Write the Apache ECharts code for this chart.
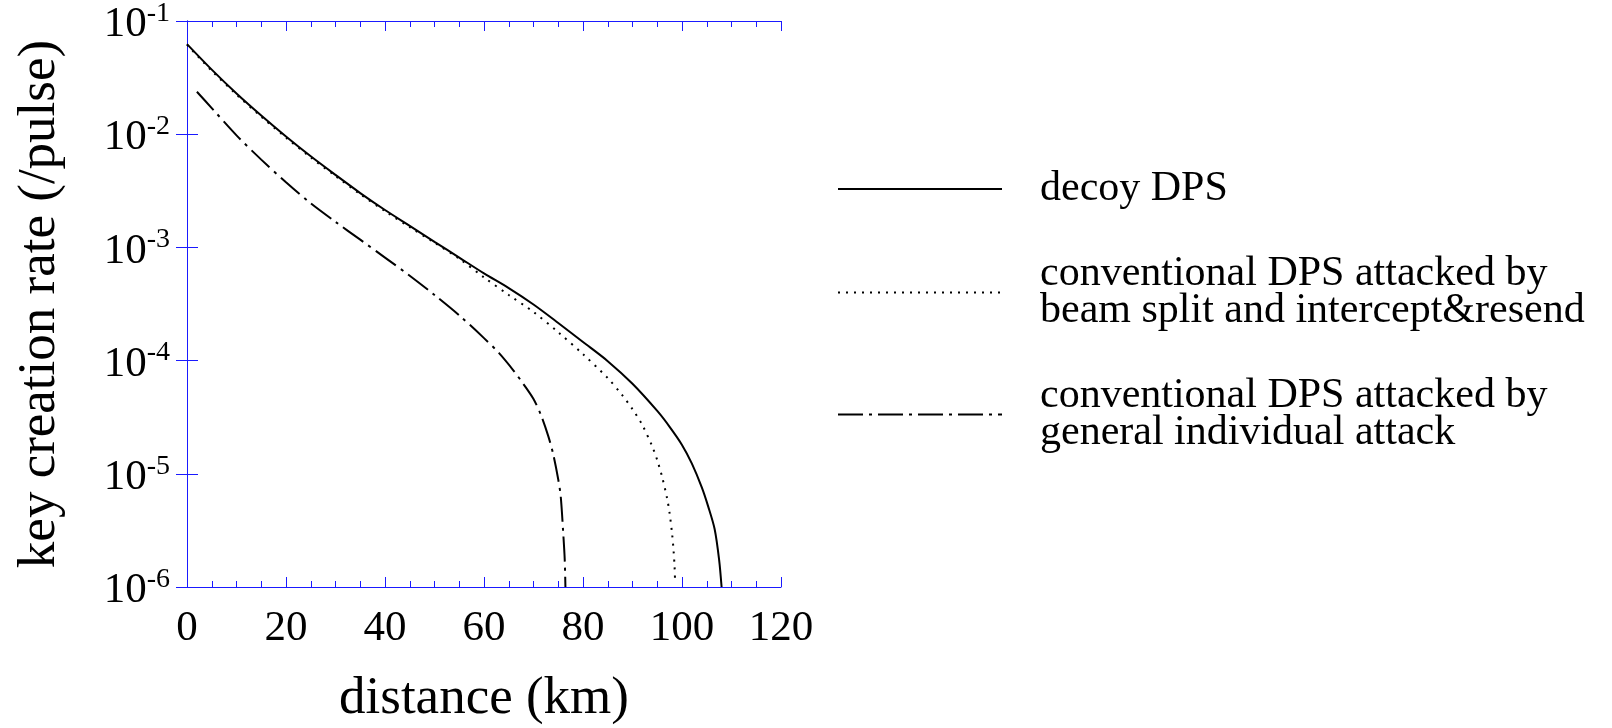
<!DOCTYPE html>
<html>
<head>
<meta charset="utf-8">
<script src="https://cdn.jsdelivr.net/npm/echarts@6/dist/echarts.min.js"></script>
<style>
  html, body { margin: 0; padding: 0; background: #fff; }
  #main { width: 1612px; height: 728px; }
</style>
</head>
<body>
<div id="main"></div>
<script>
// distance (km) / key creation rate (/pulse)
const decoyKm   = [0, 5, 10, 15, 20, 25, 30, 35, 40, 45, 50, 55, 60, 65, 70, 75, 80, 85, 90, 95, 97.5, 100, 102, 104, 105.3, 106.6, 107.5, 108];
const decoyRate = [0.0625, 0.0372, 0.0229, 0.01462, 0.00955, 0.00638, 0.00437, 0.00302, 0.00214, 0.00155, 0.00112, 0.000813, 0.000589, 0.000437, 0.000313, 0.000215, 0.000146, 9.89e-5, 6.24e-5, 3.59e-5, 2.6e-5, 1.80e-5, 1.23e-5, 7.59e-6, 5.13e-6, 3.24e-6, 1.74e-6, 1e-6];

const bsKm   = [0, 5, 10, 15, 20, 25, 30, 35, 40, 45, 50, 55, 60, 65, 70, 75, 80, 85, 88, 90, 92, 94, 95, 96, 97, 97.5, 98, 98.3, 98.5, 98.6];
const bsRate = [0.0617, 0.0363, 0.0224, 0.01429, 0.00933, 0.00624, 0.00427, 0.00295, 0.00209, 0.00151, 0.0011, 0.000794, 0.000543, 0.00038, 0.000269, 0.000178, 0.000114, 7.0e-5, 4.9e-5, 3.72e-5, 2.69e-5, 1.74e-5, 1.32e-5, 9.33e-6, 6.03e-6, 4.47e-6, 2.95e-6, 2.09e-6, 1.51e-6, 1.12e-6];

const indKm   = [2, 5, 10, 15, 20, 25, 30, 35, 40, 45, 50, 55, 60, 63, 66, 68, 70, 71.5, 73, 74, 75, 75.5, 76, 76.3, 76.45];
const indRate = [0.0237, 0.0170, 0.00977, 0.00596, 0.00376, 0.00245, 0.00168, 0.00117, 0.000813, 0.000562, 0.00038, 0.000251, 0.000158, 0.000117, 8.13e-5, 6.17e-5, 4.57e-5, 3.31e-5, 2.14e-5, 1.48e-5, 8.91e-6, 6.31e-6, 3.02e-6, 1.78e-6, 1e-6];

const seriesNames = [
  'decoy DPS',
  'conventional DPS attacked by\nbeam split and intercept&resend',
  'conventional DPS attacked by\ngeneral individual attack'
];

const FONT = 'Liberation Serif';
const BLUE = '#1a1aff';

function pairs(xs, ys) {
  return xs.map((x, i) => [x, ys[i]]);
}

let chart = echarts.init(document.getElementById('main'));

const xCommon = {
  type: 'value',
  min: 0,
  max: 120,
  interval: 20,
  axisLine: { show: true, lineStyle: { color: BLUE, width: 1 } },
  axisTick: { show: true, inside: true, length: 10, lineStyle: { color: BLUE } },
  minorTick: { show: true, splitNumber: 4, length: 6, lineStyle: { color: BLUE } },
  splitLine: { show: false },
  minorSplitLine: { show: false }
};

const yCommon = {
  type: 'log',
  logBase: 10,
  min: 1e-6,
  max: 1e-1,
  axisLine: { show: true, lineStyle: { color: BLUE, width: 1 } },
  axisTick: { show: true, inside: true, length: 11, lineStyle: { color: BLUE } },
  splitLine: { show: false }
};

let option = {
  animation: false,
  backgroundColor: '#fff',
  grid: { left: 187, top: 21, width: 594, height: 566, outerBoundsMode: 'none', containLabel: false },
  legend: {
    data: seriesNames,
    orient: 'vertical',
    left: 832,
    top: 163,
    itemWidth: 164,
    itemHeight: 14,
    itemGap: 43,
    selectedMode: false,
    itemStyle: { opacity: 0 },
    textStyle: {
      fontFamily: FONT,
      fontSize: 42,
      lineHeight: 37,
      color: '#000',
      padding: [0, 0, 0, 33]
    }
  },
  xAxis: [
    Object.assign({}, xCommon, {
      position: 'bottom',
      name: 'distance (km)',
      nameLocation: 'middle',
      nameGap: 86,
      nameTextStyle: { fontFamily: FONT, fontSize: 53, color: '#000' },
      axisLabel: { fontFamily: FONT, fontSize: 43, color: '#000', margin: 20 }
    }),
    Object.assign({}, xCommon, { position: 'top', axisLabel: { show: false } })
  ],
  yAxis: [
    Object.assign({}, yCommon, {
      position: 'left',
      name: 'key creation rate (/pulse)',
      nameLocation: 'middle',
      nameRotate: 90,
      nameGap: 120,
      nameTextStyle: { fontFamily: FONT, fontSize: 53, color: '#000' },
      axisLabel: {
        margin: 17,
        formatter: function (v) {
          const e = Math.round(Math.log10(v));
          return '{b|10}{s|' + e + '}';
        },
        rich: {
          b: { fontFamily: FONT, fontSize: 43, color: '#000', lineHeight: 43, verticalAlign: 'middle', padding: [8, 0, 0, 0] },
          s: { fontFamily: FONT, fontSize: 28, color: '#000', lineHeight: 43, verticalAlign: 'top', padding: [0, 0, 14, 0] }
        }
      }
    }),
    Object.assign({}, yCommon, { position: 'right', axisLabel: { show: false } })
  ],
  series: [
    {
      name: seriesNames[0],
      type: 'line',
      data: pairs(decoyKm, decoyRate),
      symbol: 'none',
      smooth: 0.3,
      lineStyle: { color: '#000', width: 2, type: 'solid' },
      itemStyle: { color: '#000' },
      z: 3
    },
    {
      name: seriesNames[1],
      type: 'line',
      data: pairs(bsKm, bsRate),
      symbol: 'none',
      smooth: 0.3,
      lineStyle: { color: '#000', width: 2, type: [2, 6] },
      itemStyle: { color: '#000' },
      z: 2
    },
    {
      name: seriesNames[2],
      type: 'line',
      data: pairs(indKm, indRate),
      symbol: 'none',
      smooth: 0.3,
      lineStyle: { color: '#000', width: 2, type: [25, 6, 3, 6] },
      itemStyle: { color: '#000' },
      z: 2
    }
  ]
};

chart.setOption(option);
</script>
</body>
</html>
